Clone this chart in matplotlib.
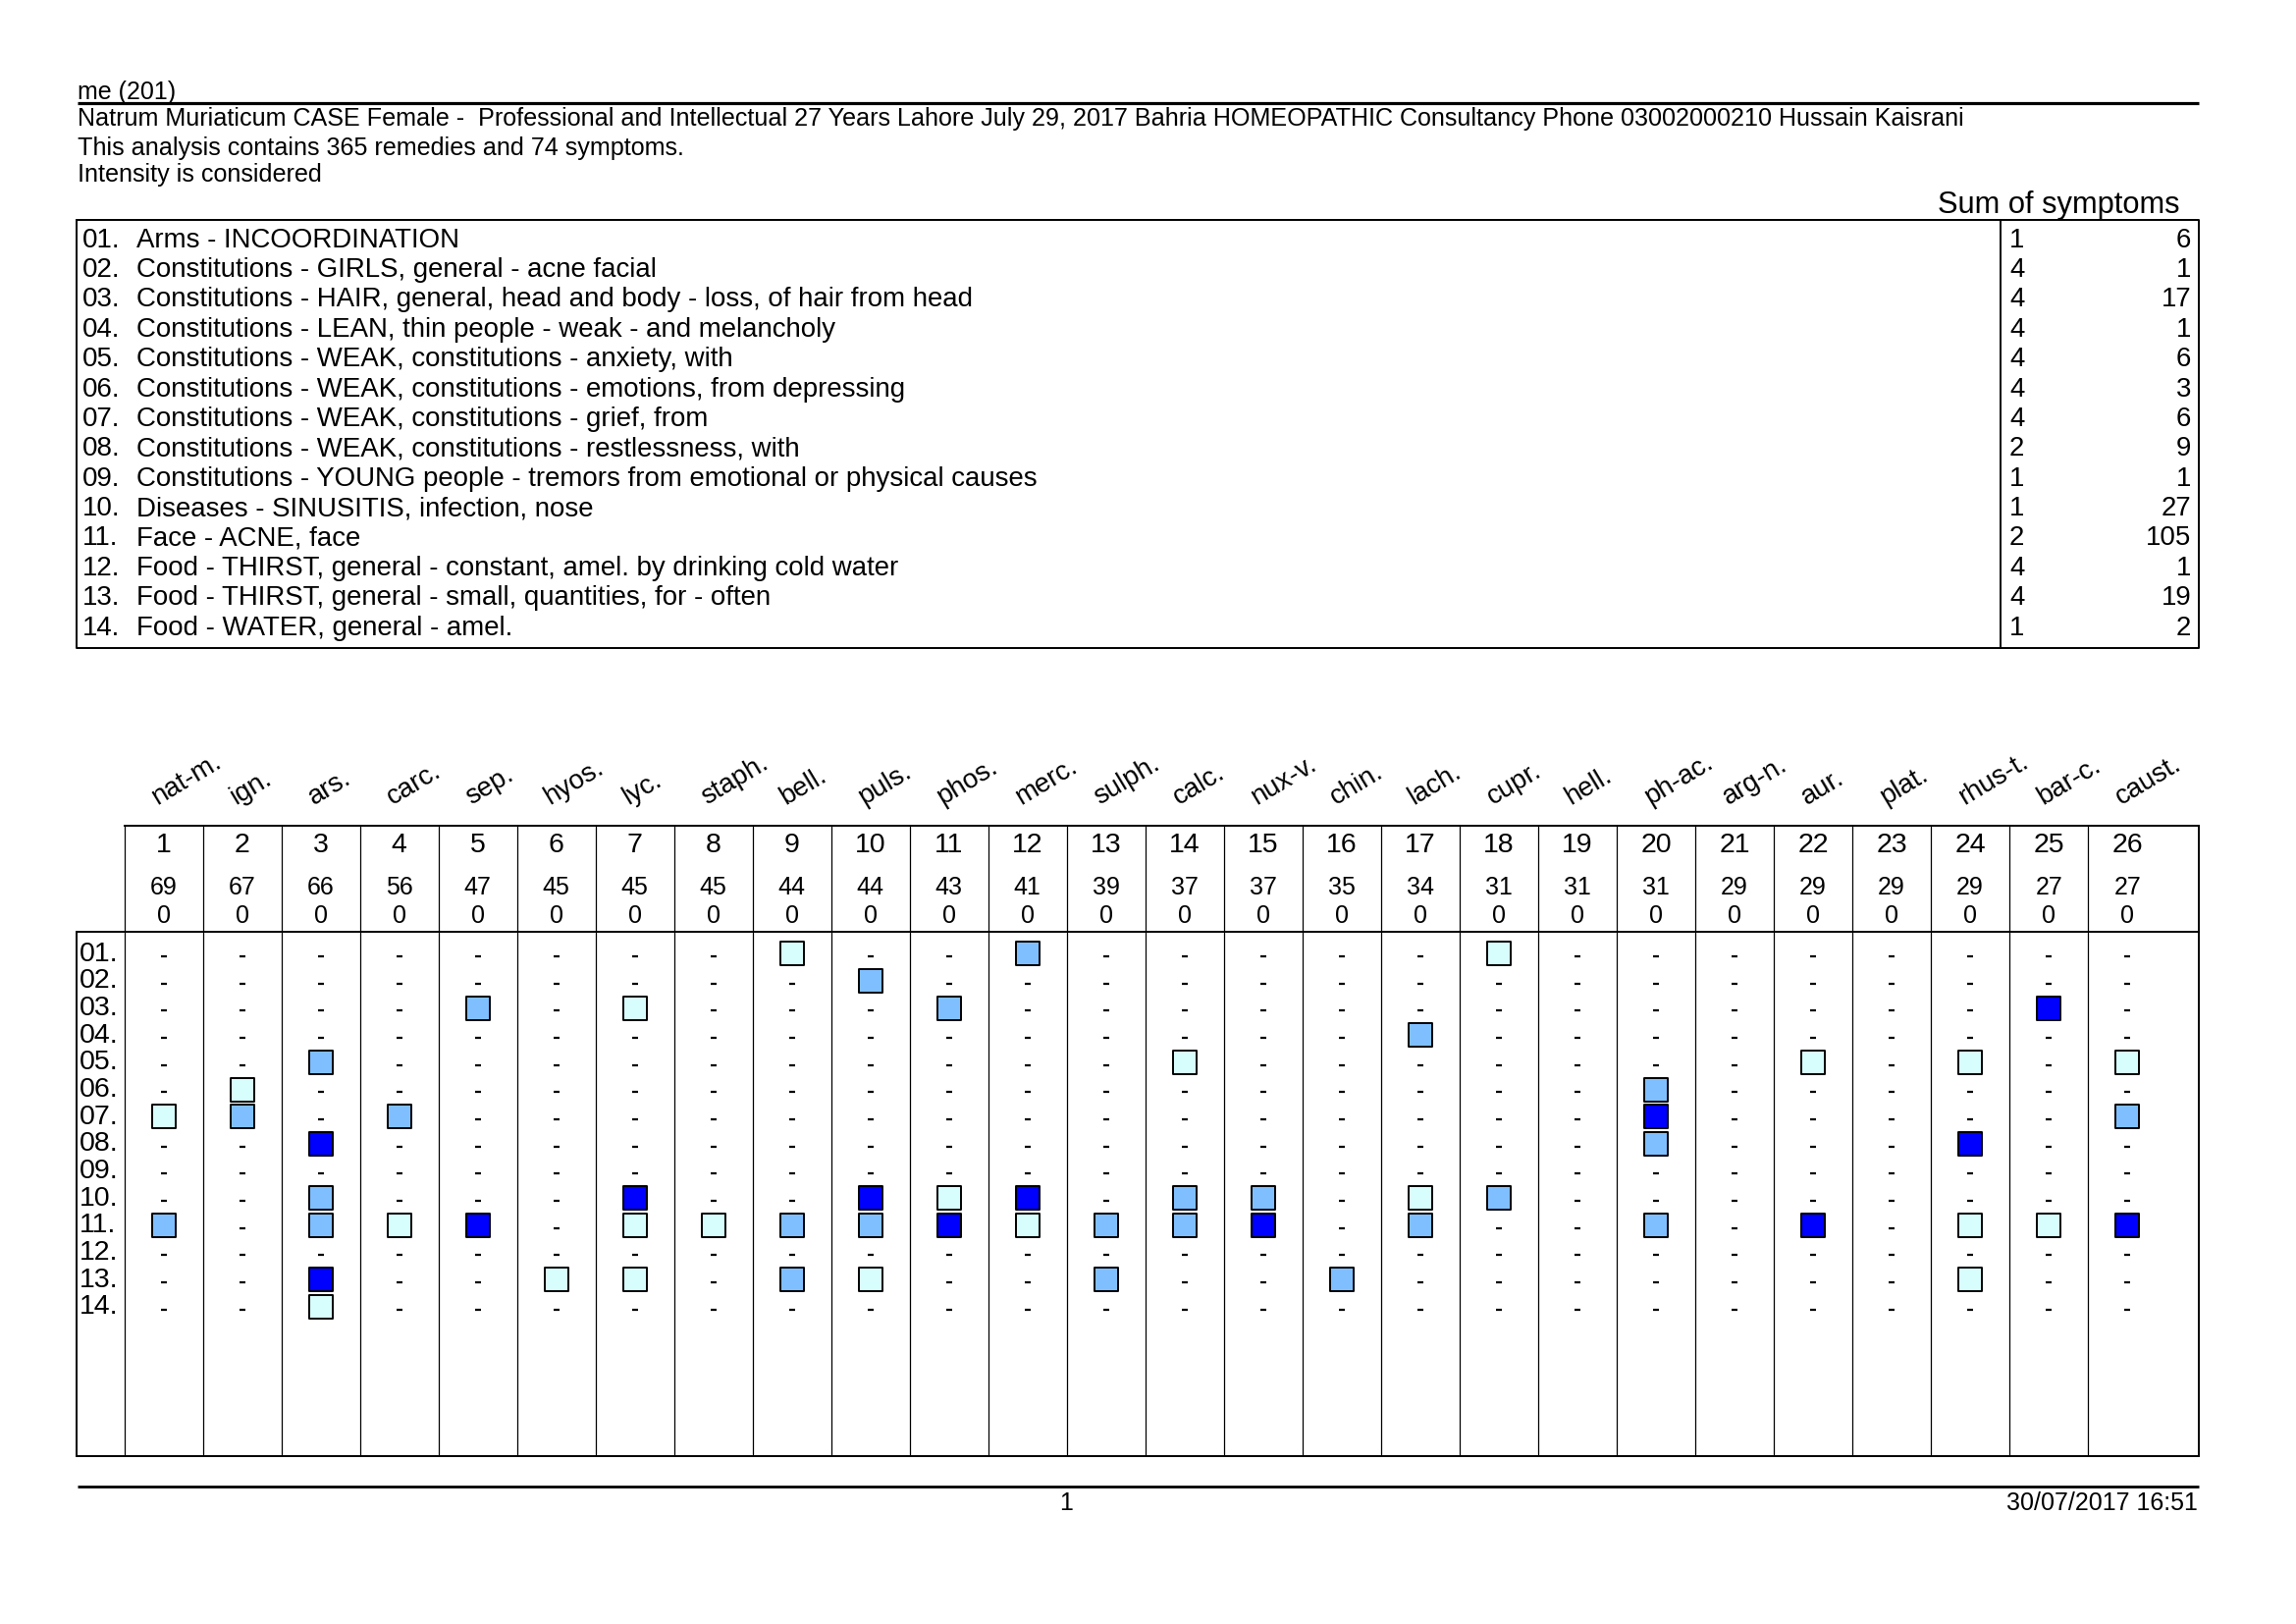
import matplotlib
matplotlib.use("Agg")
import matplotlib.pyplot as plt
from matplotlib.transforms import blended_transform_factory

plt.rcParams['font.family'] = ['Liberation Sans', 'DejaVu Sans']

W, H, DPI = 2339, 1654, 100

# ---------------- data ----------------
report_title = "me (201)"
case_line = ("Natrum Muriaticum CASE Female -  Professional and Intellectual 27 Years Lahore "
             "July 29, 2017 Bahria HOMEOPATHIC Consultancy Phone 03002000210 Hussain Kaisrani")
analysis_line = "This analysis contains 365 remedies and 74 symptoms."
intensity_line = "Intensity is considered"
sum_header = "Sum of symptoms"

symptom_ids = ["01.", "02.", "03.", "04.", "05.", "06.", "07.",
               "08.", "09.", "10.", "11.", "12.", "13.", "14."]
symptoms = [
    "Arms - INCOORDINATION",
    "Constitutions - GIRLS, general - acne facial",
    "Constitutions - HAIR, general, head and body - loss, of hair from head",
    "Constitutions - LEAN, thin people - weak - and melancholy",
    "Constitutions - WEAK, constitutions - anxiety, with",
    "Constitutions - WEAK, constitutions - emotions, from depressing",
    "Constitutions - WEAK, constitutions - grief, from",
    "Constitutions - WEAK, constitutions - restlessness, with",
    "Constitutions - YOUNG people - tremors from emotional or physical causes",
    "Diseases - SINUSITIS, infection, nose",
    "Face - ACNE, face",
    "Food - THIRST, general - constant, amel. by drinking cold water",
    "Food - THIRST, general - small, quantities, for - often",
    "Food - WATER, general - amel.",
]
symptom_weights = [1, 4, 4, 4, 4, 4, 4, 2, 1, 1, 2, 4, 4, 1]
symptom_counts = [6, 1, 17, 1, 6, 3, 6, 9, 1, 27, 105, 1, 19, 2]

remedies = ["nat-m.", "ign.", "ars.", "carc.", "sep.", "hyos.", "lyc.", "staph.",
            "bell.", "puls.", "phos.", "merc.", "sulph.", "calc.", "nux-v.", "chin.",
            "lach.", "cupr.", "hell.", "ph-ac.", "arg-n.", "aur.", "plat.", "rhus-t.",
            "bar-c.", "caust."]
remedy_ranks = [1, 2, 3, 4, 5, 6, 7, 8, 9, 10, 11, 12, 13, 14, 15, 16, 17, 18, 19,
                20, 21, 22, 23, 24, 25, 26]
remedy_scores = [69, 67, 66, 56, 47, 45, 45, 45, 44, 44, 43, 41, 39, 37, 37, 35, 34,
                 31, 31, 31, 29, 29, 29, 29, 27, 27]
remedy_second = [0, 0, 0, 0, 0, 0, 0, 0, 0, 0, 0, 0, 0, 0, 0, 0, 0, 0, 0, 0, 0, 0,
                 0, 0, 0, 0]

# intensity grade per symptom (rows 01-14) and remedy (columns 1-26); 0 = not covered
grades = [
    [0, 0, 0, 0, 0, 0, 0, 0, 1, 0, 0, 2, 0, 0, 0, 0, 0, 1, 0, 0, 0, 0, 0, 0, 0, 0],  # 01
    [0, 0, 0, 0, 0, 0, 0, 0, 0, 2, 0, 0, 0, 0, 0, 0, 0, 0, 0, 0, 0, 0, 0, 0, 0, 0],  # 02
    [0, 0, 0, 0, 2, 0, 1, 0, 0, 0, 2, 0, 0, 0, 0, 0, 0, 0, 0, 0, 0, 0, 0, 0, 3, 0],  # 03
    [0, 0, 0, 0, 0, 0, 0, 0, 0, 0, 0, 0, 0, 0, 0, 0, 2, 0, 0, 0, 0, 0, 0, 0, 0, 0],  # 04
    [0, 0, 2, 0, 0, 0, 0, 0, 0, 0, 0, 0, 0, 1, 0, 0, 0, 0, 0, 0, 0, 1, 0, 1, 0, 1],  # 05
    [0, 1, 0, 0, 0, 0, 0, 0, 0, 0, 0, 0, 0, 0, 0, 0, 0, 0, 0, 2, 0, 0, 0, 0, 0, 0],  # 06
    [1, 2, 0, 2, 0, 0, 0, 0, 0, 0, 0, 0, 0, 0, 0, 0, 0, 0, 0, 3, 0, 0, 0, 0, 0, 2],  # 07
    [0, 0, 3, 0, 0, 0, 0, 0, 0, 0, 0, 0, 0, 0, 0, 0, 0, 0, 0, 2, 0, 0, 0, 3, 0, 0],  # 08
    [0, 0, 0, 0, 0, 0, 0, 0, 0, 0, 0, 0, 0, 0, 0, 0, 0, 0, 0, 0, 0, 0, 0, 0, 0, 0],  # 09
    [0, 0, 2, 0, 0, 0, 3, 0, 0, 3, 1, 3, 0, 2, 2, 0, 1, 2, 0, 0, 0, 0, 0, 0, 0, 0],  # 10
    [2, 0, 2, 1, 3, 0, 1, 1, 2, 2, 3, 1, 2, 2, 3, 0, 2, 0, 0, 2, 0, 3, 0, 1, 1, 3],  # 11
    [0, 0, 0, 0, 0, 0, 0, 0, 0, 0, 0, 0, 0, 0, 0, 0, 0, 0, 0, 0, 0, 0, 0, 0, 0, 0],  # 12
    [0, 0, 3, 0, 0, 1, 1, 0, 2, 1, 0, 0, 2, 0, 0, 2, 0, 0, 0, 0, 0, 0, 0, 1, 0, 0],  # 13
    [0, 0, 1, 0, 0, 0, 0, 0, 0, 0, 0, 0, 0, 0, 0, 0, 0, 0, 0, 0, 0, 0, 0, 0, 0, 0],  # 14
]
grade_colors = {1: "#d8fdfd", 2: "#80bfff", 3: "#0000ff"}

page_number = "1"
timestamp = "30/07/2017 16:51"

# ---------------- layout ----------------
fig = plt.figure(figsize=(W / DPI, H / DPI), dpi=DPI)
fig.patch.set_facecolor("white")


def fig_rect(x0, y0, x1, y1):
    return [x0 / W, 1 - y1 / H, (x1 - x0) / W, (y1 - y0) / H]


page = fig.add_axes([0, 0, 1, 1])
page.set_xlim(0, W)
page.set_ylim(H, 0)
page.axis("off")

FRAME = 1.4
THIN = 0.9

# header texts
page.text(79, 101, report_title, fontsize=18, va="baseline")
page.plot([79, 2240], [105, 105], color="black", lw=2.3, solid_capstyle="butt")
page.text(79, 128, case_line, fontsize=18.1, va="baseline")
page.text(79, 158, analysis_line, fontsize=18.1, va="baseline")
page.text(79, 185, intensity_line, fontsize=18.1, va="baseline")
page.text(2221, 217, sum_header, fontsize=22.2, va="baseline", ha="right")

# symptom table
page.plot([78, 2240, 2240, 78, 78], [224, 224, 660, 660, 224], color="black", lw=FRAME)
page.plot([2038, 2038], [224, 660], color="black", lw=FRAME)

tab = fig.add_axes(fig_rect(78, 224, 2240, 660))
tab.set_xlim(78, 2240)
tab.set_ylim(14.44, 0.088)
tab.axis("off")
for k in range(len(symptoms)):
    y = k + 1
    tab.text(84, y, symptom_ids[k], fontsize=19.9, va="baseline")
    tab.text(139, y, symptoms[k], fontsize=19.9, va="baseline")
    tab.text(2047, y, str(symptom_weights[k]), fontsize=19.9, va="baseline")
    tab.text(2232, y, str(symptom_counts[k]), fontsize=19.9, va="baseline", ha="right")

# remedy grid
g = fig.add_axes(fig_rect(126.5, 949, 2240, 1483))
g.set_xlim(0.5, 26.91)
g.set_ylim(19.50, 0.198)
g.axis("off")

xg_ypage = blended_transform_factory(g.transData, page.transData)
xpage_yg = blended_transform_factory(page.transData, g.transData)

n_rem = len(remedies)
# vertical column separators (header + grid)
page.vlines([i + 0.5 for i in range(n_rem)], 841, 1483, colors="black",
            lw=THIN, transform=xg_ypage)
page.plot([126.5, 2240], [841, 841], color="black", lw=FRAME)
page.plot([2240, 2240], [841, 1483], color="black", lw=FRAME)
page.plot([78, 2240], [949, 949], color="black", lw=FRAME)
page.plot([78, 2240], [1483, 1483], color="black", lw=FRAME)
page.plot([78, 78], [949, 1483], color="black", lw=FRAME)

for i in range(n_rem):
    x = i + 1
    page.text(x - 0.08, 820, remedies[i], fontsize=19.8, rotation=31,
              rotation_mode="anchor", ha="left", va="baseline", transform=xg_ypage)
    page.text(x, 868, str(remedy_ranks[i]), fontsize=20.5, ha="center",
              va="baseline", transform=xg_ypage)
    page.text(x, 911, str(remedy_scores[i]), fontsize=18, ha="center",
              va="baseline", transform=xg_ypage)
    page.text(x, 940, str(remedy_second[i]), fontsize=18, ha="center",
              va="baseline", transform=xg_ypage)

for k in range(len(symptom_ids)):
    page.text(81, k + 1.27, symptom_ids[k], fontsize=20.5, va="baseline",
              transform=xpage_yg)

for k, row in enumerate(grades):
    for i, grade in enumerate(row):
        if grade:
            g.scatter(i + 1, k + 1, marker="s", s=290, c=grade_colors[grade],
                      edgecolors="black", linewidths=1.4, zorder=3)
        else:
            g.scatter(i + 1, k + 1.1, marker="_", s=14, c="black",
                      linewidths=1.6, zorder=3)

# footer
page.plot([79, 2240], [1514, 1514], color="black", lw=2.0, solid_capstyle="butt")
page.text(1086, 1538, page_number, fontsize=18, ha="center", va="baseline")
page.text(2239, 1538, timestamp, fontsize=18, ha="right", va="baseline")

fig.savefig("out.png", dpi=DPI, facecolor="white")
